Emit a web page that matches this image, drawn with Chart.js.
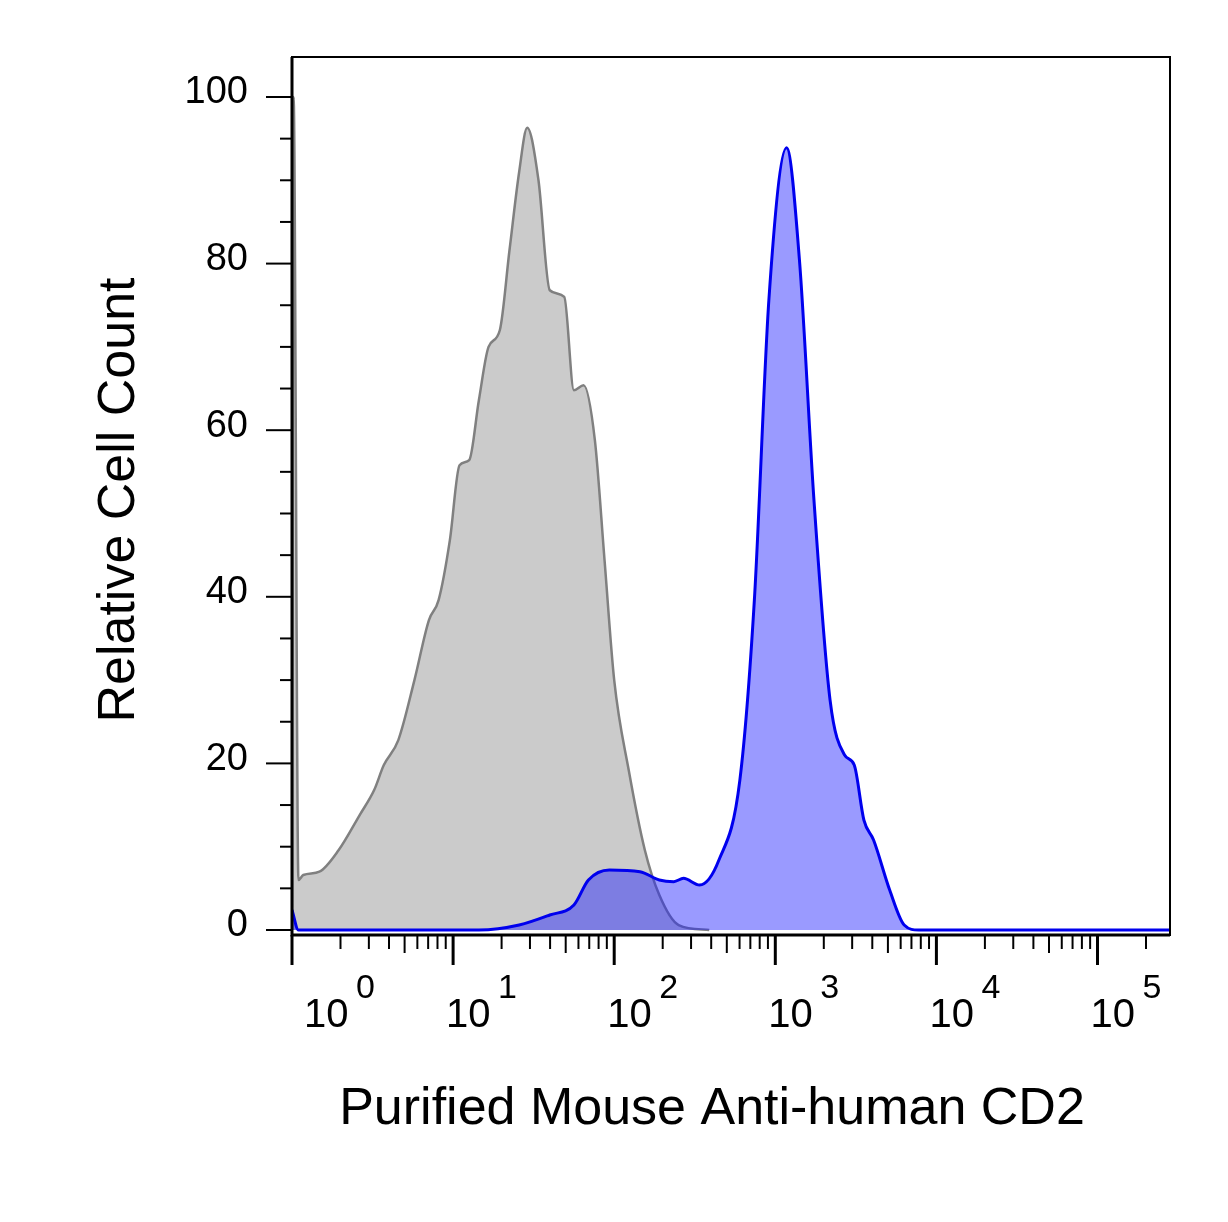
<!DOCTYPE html>
<html><head><meta charset="utf-8">
<script src="https://cdn.jsdelivr.net/npm/chart.js@4.4.0/dist/chart.umd.min.js"></script>
<style>html,body{margin:0;padding:0;background:#fff}#wrap{width:1228px;height:1222px}</style>
</head><body><div id="wrap"><canvas id="c"></canvas></div>
<script>
// x values in decades (log10 of fluorescence)
const grayX = [0,0.01,0.04,0.07,0.17,0.29,0.42,0.51,0.57,0.66,0.76,0.85,0.91,0.98,1.04,1.10,1.16,1.22,1.29,1.35,1.41,1.46,1.53,1.60,1.69,1.75,1.81,1.88,1.94,2.00,2.09,2.19,2.28,2.40,2.59];
const grayY = [0,100,6,6.6,7,9.6,13.8,16.8,19.8,22.8,30,37.2,39.6,46.8,55.8,56.4,63.6,70,72,81.6,91,96.3,90,76.8,76,64.8,65.4,58.8,44.4,30,19.2,9.6,4.2,0.6,0];
const blueX = [0,0.04,1.16,1.41,1.60,1.75,1.84,1.97,2.16,2.28,2.37,2.43,2.53,2.65,2.78,2.87,2.96,3.07,3.15,3.24,3.34,3.43,3.49,3.55,3.61,3.71,3.80,3.89,5.45];
const blueY = [2.4,0,0,0.6,1.8,3,6,7.2,7,6,5.8,6.2,5.4,8.4,18,39.6,75.6,93.9,80.4,51.6,27.6,21,19.8,13.2,10.8,4.8,0.6,0,0];
const xDecades = [0,1,2,3,4,5];
const yTicks = [0,20,40,60,80,100];
const xTitle = "Purified Mouse Anti-human CD2";
const yTitle = "Relative Cell Count";

const pts=(xs,ys)=>xs.map((x,i)=>({x,y:ys[i]}));
const F='"Liberation Sans", Arial';
const axesPlugin={id:'axes',afterDatasetsDraw(ch){
  const c=ch.ctx,a=ch.chartArea,xs=ch.scales.x,ys=ch.scales.y;
  c.save();c.strokeStyle='#000';c.fillStyle='#000';
  c.lineWidth=2;c.strokeRect(a.left,a.top,a.right-a.left,a.bottom-a.top);
  c.lineWidth=3;c.beginPath();c.moveTo(a.left,a.top);c.lineTo(a.left,a.bottom);c.lineTo(a.right,a.bottom);c.stroke();
  c.lineWidth=2;
  for(let v=0;v<=100;v+=5){const y=ys.getPixelForValue(v);const L=v%20===0?26:12;c.beginPath();c.moveTo(a.left,y);c.lineTo(a.left-L,y);c.stroke();}
  c.font='38px '+F;c.textAlign='right';c.textBaseline='middle';
  yTicks.forEach(v=>c.fillText(String(v),a.left-44,ys.getPixelForValue(v)-4));
  for(const d of xDecades){for(let k=1;k<10;k++){const v=d+Math.log10(k);if(v>xs.max)break;const x=xs.getPixelForValue(v);const L=k===1?30:(k===5?18:14);c.lineWidth=k===1?3:2;c.beginPath();c.moveTo(x,a.bottom);c.lineTo(x,a.bottom+L);c.stroke();}}
  c.textAlign='left';c.textBaseline='alphabetic';
  xDecades.forEach(d=>{const x=xs.getPixelForValue(d)+(d===0?12:-7);c.font='40px '+F;c.fillText('10',x,1027);c.font='34px '+F;c.fillText(String(d),x+52,998);});
  c.font='52px '+F;c.textAlign='center';c.fillText(xTitle,712,1124);
  c.translate(134,500);c.rotate(-Math.PI/2);c.fillText(yTitle,0,0);
  c.restore();}};
new Chart(document.getElementById('c'),{type:'scatter',
 data:{datasets:[
  {data:pts(blueX,blueY),showLine:true,fill:'origin',backgroundColor:'rgba(30,30,255,0.45)',borderColor:'#0000ee',borderWidth:3,pointRadius:0,cubicInterpolationMode:'monotone',order:1},
  {data:pts(grayX,grayY),showLine:true,fill:'origin',backgroundColor:'rgba(185,185,185,0.75)',borderColor:'#808080',borderWidth:2.5,pointRadius:0,cubicInterpolationMode:'monotone',order:2}
 ]},
 options:{responsive:true,maintainAspectRatio:false,animation:false,
  layout:{padding:{left:292,right:58,top:57,bottom:287}},
  plugins:{legend:{display:false},tooltip:{enabled:false}},
  scales:{x:{type:'linear',min:0,max:5.45,display:false},y:{min:-0.6,max:104.8,display:false}}},
 plugins:[axesPlugin]});
</script></body></html>
